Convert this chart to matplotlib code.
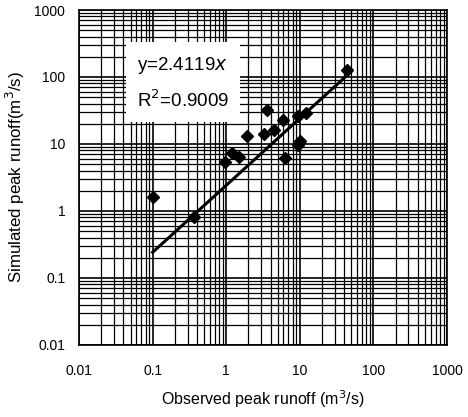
import matplotlib
matplotlib.use("Agg")
import matplotlib.pyplot as plt
from matplotlib.ticker import LogLocator, FixedFormatter, FixedLocator, NullFormatter

plt.rcParams['font.family'] = ['Liberation Sans', 'DejaVu Sans']

# observed vs simulated peak runoff (m3/s)
observed = [0.1, 0.37, 0.96, 1.2, 1.5, 1.9, 3.3, 3.6, 4.5, 5.9, 6.2, 9.4, 10.2, 9.6, 12, 44]
simulated = [1.6, 0.8, 5.3, 7.3, 6.4, 13, 14, 32, 16, 23, 6.2, 26, 11, 9.5, 29, 128]

slope = 2.4119
r2 = 0.9009
fit_x = [0.1, 47]
fit_y = [slope * v for v in fit_x]

tick_vals = [0.01, 0.1, 1, 10, 100, 1000]
tick_labels = ['0.01', '0.1', '1', '10', '100', '1000']

fig = plt.figure(figsize=(4.68, 4.17), dpi=100)
ax = fig.add_axes([0.169, 0.173, 0.786, 0.803])

ax.set_xscale('log')
ax.set_yscale('log')
ax.set_xlim(0.01, 1000)
ax.set_ylim(0.01, 1000)

ax.xaxis.set_major_locator(FixedLocator(tick_vals))
ax.xaxis.set_major_formatter(FixedFormatter(tick_labels))
ax.yaxis.set_major_locator(FixedLocator(tick_vals))
ax.yaxis.set_major_formatter(FixedFormatter(tick_labels))
ax.xaxis.set_minor_locator(LogLocator(base=10, subs=range(2, 10), numticks=20))
ax.yaxis.set_minor_locator(LogLocator(base=10, subs=range(2, 10), numticks=20))
ax.xaxis.set_minor_formatter(NullFormatter())
ax.yaxis.set_minor_formatter(NullFormatter())

ax.grid(True, which='major', color='black', linewidth=1.2)
ax.grid(True, which='minor', color='black', linewidth=0.9)
ax.tick_params(which='both', length=0, labelsize=10)
ax.tick_params(axis='x', pad=14)
ax.tick_params(axis='y', pad=10)
for s in ax.spines.values():
    s.set_linewidth(1.2)

ax.plot(fit_x, fit_y, color='black', linewidth=2.2, zorder=3)
ax.plot(observed, simulated, 'D', color='black', markersize=6.5, zorder=4)

ax.text(0.158, 0.865, 'y=2.4119$x$\nR$^2$=0.9009', transform=ax.transAxes,
        fontsize=13.5, va='top', ha='left', linespacing=1.75, zorder=5,
        bbox=dict(facecolor='white', edgecolor='none', pad=8))

ax.set_xlabel('Observed peak runoff (m$^3$/s)', fontsize=11.5, labelpad=7)
ax.set_ylabel('Simulated peak runoff(m$^3$/s)', fontsize=12.2, labelpad=5)

fig.savefig('out.png', dpi=100)
